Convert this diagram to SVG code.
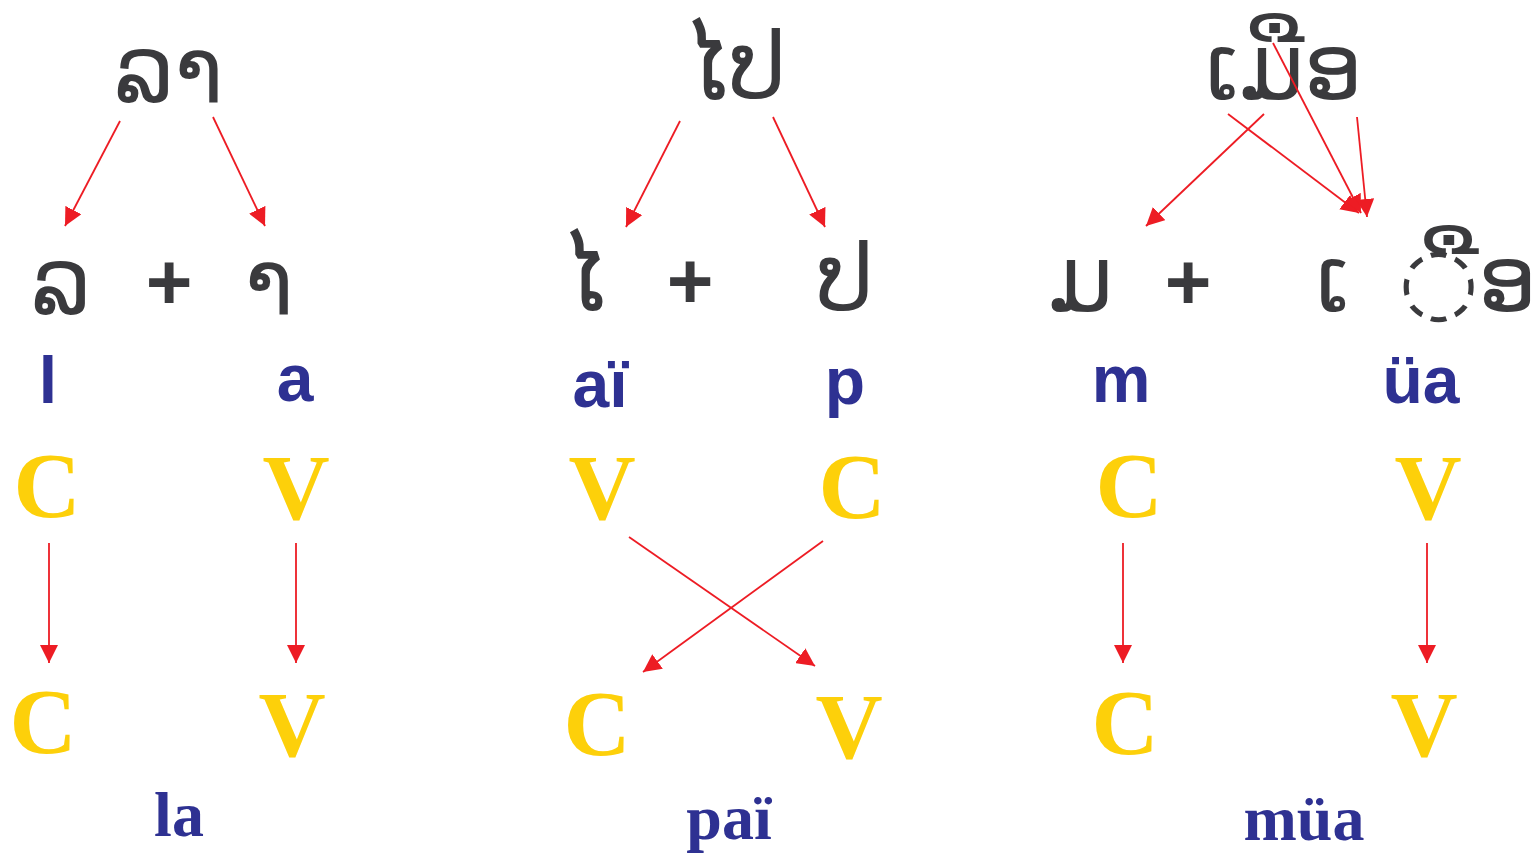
<svg xmlns="http://www.w3.org/2000/svg" width="1539" height="854" viewBox="0 0 1539 854">
<defs>
<marker id="ah" markerUnits="userSpaceOnUse" markerWidth="18" markerHeight="18" viewBox="0 0 16 16" refX="16" refY="8" orient="auto">
<path d="M0,0 L16,8 L0,16 Z" fill="#ed1c24"/>
</marker>
<style>
.lao{font-family:"DejaVu Sans","Noto Sans",sans-serif;font-size:92px;fill:#3a3a3d;text-anchor:middle}
.plus{font-family:"Liberation Sans",sans-serif;font-weight:bold;font-size:80px;fill:#3a3a3d;text-anchor:middle}
.rom{font-family:"Liberation Sans",Arial,sans-serif;font-weight:bold;font-size:66px;fill:#2e3192;text-anchor:middle}
.cv{font-family:"Liberation Serif","Times New Roman",serif;font-weight:bold;font-size:93px;fill:#fdd00a;text-anchor:middle}
.word{font-family:"Liberation Serif","Times New Roman",serif;font-weight:bold;font-size:64px;fill:#2e3192;text-anchor:middle}
.arr{stroke:#ed1c24;stroke-width:1.8;fill:none;marker-end:url(#ah)}
</style>
</defs>
<rect width="1539" height="854" fill="#ffffff"/>
<g id="la">
<text class="lao" x="169" y="102">ລາ</text>
<text class="lao" x="61" y="314">ລ</text>
<text class="plus" x="169" y="309">+</text>
<text class="lao" x="269" y="314">າ</text>
<text class="rom" x="48" y="403">l</text>
<text class="rom" x="295" y="401">a</text>
<text class="cv" x="47" y="517">C</text>
<text class="cv" x="296" y="519">V</text>
<text class="cv" x="43" y="753">C</text>
<text class="cv" x="292" y="756">V</text>
<text class="word" x="179" y="836">la</text>
</g>
<g id="pai">
<text class="lao" x="735" y="99">ໄປ</text>
<text class="lao" x="584" y="310">ໄ</text>
<text class="plus" x="690" y="308">+</text>
<text class="lao" x="845" y="311">ປ</text>
<text class="rom" x="600" y="407">aï</text>
<text class="rom" x="845" y="404">p</text>
<text class="cv" x="602" y="519">V</text>
<text class="cv" x="852" y="518">C</text>
<text class="cv" x="597" y="755">C</text>
<text class="cv" x="849" y="758">V</text>
<text class="word" x="729" y="839">paï</text>
</g>
<g id="mua">
<text class="lao" x="1284" y="99">ເມືອ</text>
<text class="lao" x="1081" y="311">ມ</text>
<text class="plus" x="1188" y="309">+</text>
<text class="lao" x="1333" y="311">ເ</text>
<text class="lao" x="1537" y="311" style="text-anchor:end">◌ືອ</text>
<text class="rom" x="1121" y="402">m</text>
<text class="rom" x="1421" y="403">üa</text>
<text class="cv" x="1129" y="517">C</text>
<text class="cv" x="1428" y="519">V</text>
<text class="cv" x="1125" y="754">C</text>
<text class="cv" x="1424" y="756">V</text>
<text class="word" x="1304" y="840">müa</text>
</g>
<g id="connectors">
<line class="arr" x1="120" y1="121" x2="65" y2="226"/>
<line class="arr" x1="213" y1="117" x2="265" y2="226"/>
<line class="arr" x1="680" y1="121" x2="626" y2="227"/>
<line class="arr" x1="773" y1="117" x2="825" y2="227"/>
<line class="arr" x1="1264" y1="114" x2="1146" y2="226"/>
<line class="arr" x1="1228" y1="114" x2="1359" y2="213"/>
<line class="arr" x1="1273" y1="43" x2="1361" y2="213"/>
<line class="arr" x1="1357" y1="117" x2="1367" y2="217"/>
<line class="arr" x1="49" y1="543" x2="49" y2="663"/>
<line class="arr" x1="296" y1="543" x2="296" y2="663"/>
<line class="arr" x1="629" y1="537" x2="815" y2="666"/>
<line class="arr" x1="823" y1="541" x2="643" y2="672"/>
<line class="arr" x1="1123" y1="543" x2="1123" y2="663"/>
<line class="arr" x1="1427" y1="543" x2="1427" y2="663"/>
</g>
</svg>
